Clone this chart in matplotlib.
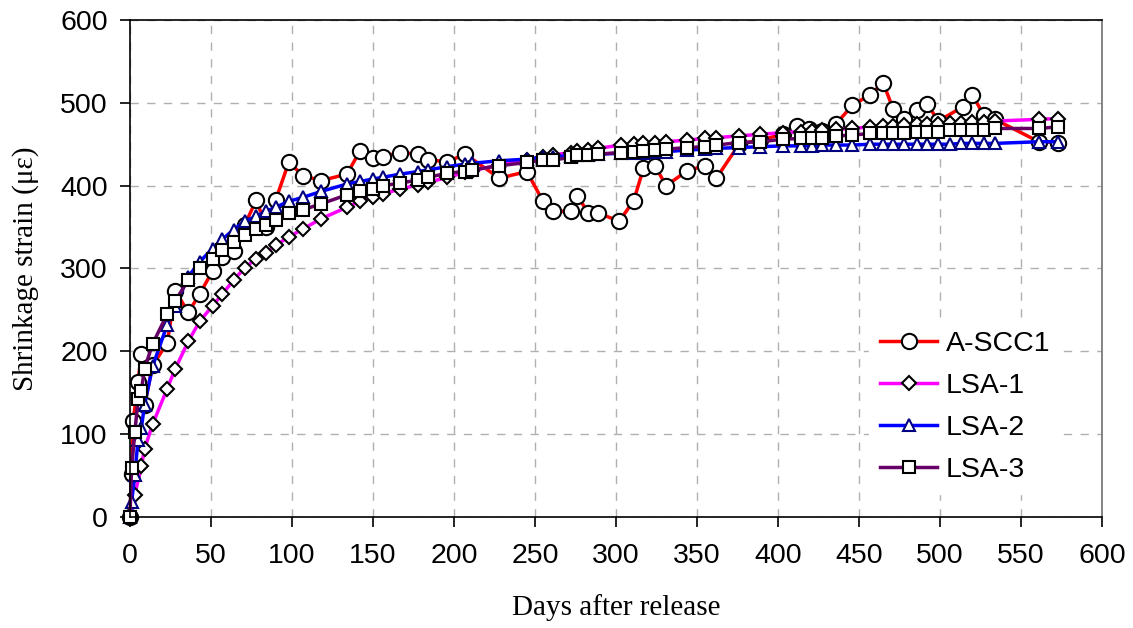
import matplotlib
matplotlib.use('Agg')
import matplotlib.pyplot as plt

# days after release for each series
a_days = [0, 1, 2, 5, 7, 9, 14, 23, 28, 36,
          43, 51, 57, 64, 71, 78, 84, 90, 98, 107,
          118, 134, 142, 150, 156, 167, 178, 184, 196, 207,
          228, 245, 255, 261, 272, 276, 283, 289, 302, 311,
          317, 324, 331, 344, 355, 362, 376, 389, 403, 412,
          419, 427, 436, 446, 457, 465, 471, 478, 486, 492,
          499, 514, 520, 527, 534, 561, 573]
a_scc1 = [0, 52, 116, 163, 197, 135, 183, 210, 273, 247,
          269, 297, 314, 321, 353, 383, 350, 383, 428, 412,
          406, 414, 442, 433, 435, 440, 438, 431, 429, 438,
          409, 417, 381, 369, 369, 388, 367, 367, 357, 382,
          421, 424, 400, 418, 424, 409, 450, 455, 462, 472,
          468, 466, 475, 497, 510, 524, 493, 480, 491, 499,
          478, 495, 510, 485, 480, 453, 452]

lsa_days = [0, 1, 3, 5, 7, 9, 14, 23, 28, 36,
            43, 51, 57, 64, 71, 78, 84, 90, 98, 107,
            118, 134, 142, 150, 156, 167, 178, 184, 196, 207,
            211, 228, 245, 255, 261, 272, 276, 283, 289, 303,
            311, 317, 324, 331, 344, 355, 362, 376, 389, 403,
            414, 421, 427, 436, 446, 457, 465, 471, 478, 486,
            492, 499, 506, 513, 520, 527, 534, 561, 573]
lsa1_days = [0, 3, 7, 9, 14, 23, 28, 36,
             43, 51, 57, 64, 71, 78, 84, 90, 98, 107,
             118, 134, 142, 150, 156, 167, 178, 184, 196, 207,
             211, 228, 245, 255, 261, 272, 276, 283, 289, 303,
             311, 317, 324, 331, 344, 355, 362, 376, 389, 403,
             414, 421, 427, 436, 446, 457, 465, 471, 478, 486,
             492, 499, 506, 513, 520, 527, 534, 561, 573]
lsa1 = [0, 27, 61, 82, 112, 155, 179, 212,
        236, 255, 269, 286, 301, 312, 319, 328, 338, 348,
        360, 374, 381, 386, 390, 396, 401, 404, 410, 416,
        418, 425, 431, 435, 437, 440, 442, 443, 445, 449,
        450, 451, 452, 453, 455, 457, 458, 460, 462, 464,
        465, 466, 467, 468, 469, 471, 472, 472, 473, 474,
        474, 475, 476, 476, 477, 477, 478, 480, 481]
lsa2 = [0, 18, 51, 93, 107, 135, 182, 232, 255, 290,
        308, 324, 335, 347, 357, 363, 369, 374, 381, 386,
        393, 402, 405, 408, 410, 414, 417, 419, 423, 426,
        427, 430, 432, 434, 435, 436, 437, 437, 438, 439,
        440, 440, 441, 441, 443, 444, 445, 446, 447, 448,
        448, 448, 449, 449, 449, 450, 450, 450, 450, 450,
        450, 450, 450, 451, 451, 451, 451, 453, 453]
lsa3 = [0, 59, 102, 142, 152, 179, 209, 245, 261, 286,
        300, 312, 322, 332, 341, 348, 352, 359, 367, 371,
        378, 389, 393, 396, 400, 403, 407, 410, 415, 417,
        419, 424, 428, 431, 431, 434, 437, 437, 438, 440,
        441, 442, 443, 444, 446, 447, 449, 452, 453, 456,
        457, 457, 457, 460, 461, 463, 463, 463, 463, 465,
        465, 465, 467, 467, 467, 467, 469, 469, 471]

x_ticks = [0, 50, 100, 150, 200, 250, 300, 350, 400, 450, 500, 550, 600]
y_ticks = [0, 100, 200, 300, 400, 500, 600]

fig = plt.figure(figsize=(11.33, 6.28), dpi=100)
ax = fig.add_axes([0.1147, 0.1768, 0.8579, 0.7914])

lw = 2.5
# markers at day 0 sit on the axis, so no clipping
ax.plot(a_days, a_scc1, color='#ff0000', lw=lw, marker='o', ms=11,
        mfc='white', mec='black', mew=1.5, label='A-SCC1', clip_on=False)
ax.plot(lsa1_days, lsa1, color='#ff00ff', lw=lw, marker='D', ms=7,
        mfc='white', mec='black', mew=1.5, label='LSA-1', clip_on=False)
ax.plot(lsa_days, lsa2, color='#0000ff', lw=lw, marker='^', ms=9,
        mfc='white', mec='#000080', mew=1.5, label='LSA-2', clip_on=False)
ax.plot(lsa_days, lsa3, color='#660066', lw=lw, marker='s', ms=8,
        mfc='white', mec='black', mew=1.5, label='LSA-3', clip_on=False)

ax.set_xlim(0, 600)
ax.set_ylim(0, 600)
ax.set_xticks(x_ticks)
ax.set_yticks(y_ticks)
ax.grid(True, color='#b0b0b0', linestyle=(0, (6, 6)), linewidth=1)
ax.set_axisbelow(True)

for s in ['top', 'left', 'bottom']:
    ax.spines[s].set_color('black')
    ax.spines[s].set_linewidth(1.2)
ax.spines['right'].set_color('#707070')
ax.spines['right'].set_linewidth(1.2)

ax.tick_params(axis='x', direction='out', length=7, width=1.2, pad=12)
ax.tick_params(axis='y', direction='out', length=7, width=1.2, pad=9)
for t in ax.get_xticklabels() + ax.get_yticklabels():
    t.set_fontfamily('Liberation Sans')
    t.set_fontsize(20.5)

ax.set_xlabel('Days after release', fontfamily='Liberation Serif', fontsize=21)
ax.set_ylabel('Shrinkage strain (με)', fontfamily='Liberation Serif', fontsize=21)
ax.xaxis.set_label_coords(0.5, -0.155)
ax.yaxis.set_label_coords(-0.094, 0.5)

leg = ax.legend(loc='center left', bbox_to_anchor=(0.76, 0.221),
                prop={'family': 'Liberation Sans', 'size': 20.5},
                frameon=True, facecolor='white', edgecolor='white', framealpha=1,
                fancybox=False, handlelength=2.0, handletextpad=0.3,
                labelspacing=0.56, borderpad=0.4, borderaxespad=0)

fig.savefig('out.png', dpi=100)
